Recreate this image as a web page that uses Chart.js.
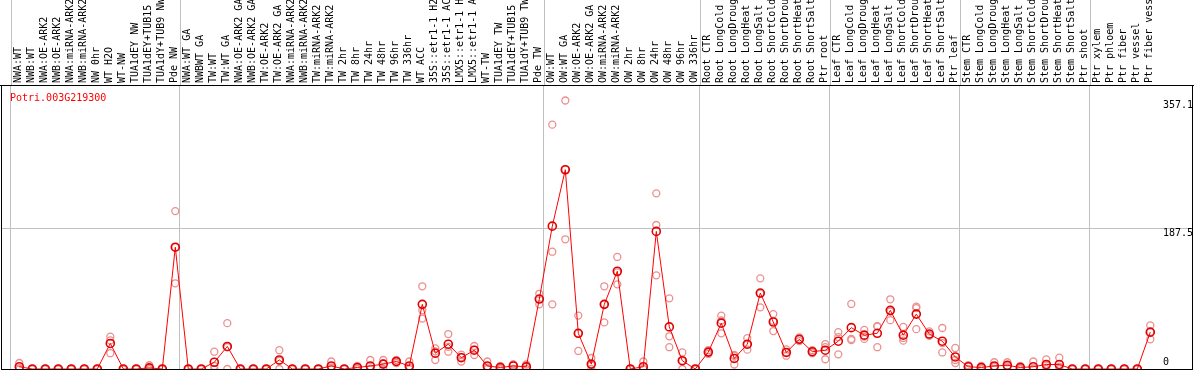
<!DOCTYPE html>
<html>
<head>
<meta charset="utf-8">
<script src="https://cdn.jsdelivr.net/npm/chart.js@4/dist/chart.umd.min.js"></script>
<style>
  html, body { margin: 0; padding: 0; background: #fff; }
  #wrap { width: 1194px; height: 370px; }
</style>
</head>
<body>
<div id="wrap"><canvas id="efp-chart"></canvas></div>
<script>
// ------------------------
// DATA
// ------------------------

const geneName = 'Potri.003G219300'

const categories = [
  'NWA:WT', 'NWB:WT', 'NWA:OE-ARK2', 'NWB:OE-ARK2', 'NWA:miRNA-ARK2', 'NWB:miRNA-ARK2',
  'NW 0hr', 'WT H2O', 'WT-NW', 'TUA1dEY NW', 'TUA1dEY+TUB15 NW', 'TUA1dY+TUB9 NW', 'Pde NW',
  'NWA:WT GA', 'NWBWT GA', 'TW:WT', 'TW:WT GA', 'NWA:OE-ARK2 GA', 'NWB:OE-ARK2 GA',
  'TW:OE-ARK2', 'TW:OE-ARK2 GA', 'NWA:miRNA-ARK2 GA', 'NWB:miRNA-ARK2 GA', 'TW:miRNA-ARK2',
  'TW:miRNA-ARK2 GA', 'TW 2hr', 'TW 8hr', 'TW 24hr', 'TW 48hr', 'TW 96hr', 'TW 336hr',
  'WT ACC', '35S::etr1-1 H2O', '35S::etr1-1 ACC', 'LMX5::etr1-1 H2O', 'LMX5::etr1-1 ACC',
  'WT-TW', 'TUA1dEY TW', 'TUA1dEY+TUB15 TW', 'TUA1dY+TUB9 TW', 'Pde TW',
  'OW:WT', 'OW:WT GA', 'OW:OE-ARK2', 'OW:OE-ARK2 GA', 'OW:miRNA-ARK2', 'OW:miRNA-ARK2 GA',
  'OW 2hr', 'OW 8hr', 'OW 24hr', 'OW 48hr', 'OW 96hr', 'OW 336hr',
  'Root CTR', 'Root LongCold', 'Root LongDrought', 'Root LongHeat', 'Root LongSalt',
  'Root ShortCold', 'Root ShortDrought', 'Root ShortHeat', 'Root ShortSalt', 'Ptr root',
  'Leaf CTR', 'Leaf LongCold', 'Leaf LongDrought', 'Leaf LongHeat', 'Leaf LongSalt',
  'Leaf ShortCold', 'Leaf ShortDrought', 'Leaf ShortHeat', 'Leaf ShortSalt', 'Ptr leaf',
  'Stem CTR', 'Stem LongCold', 'Stem LongDrought', 'Stem LongHeat', 'Stem LongSalt',
  'Stem ShortCold', 'Stem ShortDrought', 'Stem ShortHeat', 'Stem ShortSalt', 'Ptr shoot',
  'Ptr xylem', 'Ptr phloem', 'Ptr fiber', 'Ptr vessel', 'Ptr fiber vessel'
]

// group sizes (separators are drawn between the groups)
const groupSizes = [13, 28, 12, 10, 10, 10, 11, 1, 1, 1, 1]

// mean expression per sample
const meanValues = [
  3, 0, 0, 0, 0, 0, 0, 34, 0, 0, 1.5, 0, 162,
  0, 0, 9, 30, 0, 0, 0, 12, 0, 0, 0, 4, 0, 2, 4, 6.5, 10, 4, 86, 21, 33, 15, 25, 4, 2, 4, 3, 93,
  190, 265, 47.5, 6.5, 86, 130, 0, 3, 183, 56, 11, 0,
  22.5, 61, 14, 33, 101, 62.5, 22, 39.5, 23, 25,
  37, 55, 45, 47.5, 78, 45, 73, 46.5, 37, 16,
  3, 2, 4, 5, 2, 3, 6, 6, 0, 0, 0,
  0, 0, 0, 49
]

// replicate values
const rep1 = [
  8, 0, 0, 0, 0, 0, 0, 43, 0, 0, 5, 0, 210,
  0, 0, 23, 61, 0, 0, 0, 25, 0, 0, 0, 10, 0, 4, 12, 12, 12, 10, 110, 27.5, 46.5, 19, 30.6, 10, 4, 6, 6, 100,
  325, 357.1, 71, 14.6, 110, 149, 0, 10, 233.6, 94, 22, 0,
  25, 71, 18.6, 41, 120.6, 73, 26, 42, 25, 33,
  49, 86.5, 52, 57, 92.7, 56, 83, 50, 54.5, 28,
  5, 4, 9, 9, 4, 10, 12.8, 15, 0, 0, 0,
  0, 0, 0, 58
]
const rep2 = [
  0, 0, 0, 0, 0, 0, 0, 21, 0, 0, 0, 0, 114,
  0, 0, 0, 0, 0, 0, 0, 0, 0, 0, 0, 0, 0, 0, 0, 0, 8, 0, 67, 12, 23, 10, 18.6, 0, 0, 0, 0, 86,
  86, 172.5, 24, 0, 62, 112.6, 0, 0, 124.6, 29, 0, 0,
  20, 47.5, 6, 25.7, 82, 50.5, 17.7, 37, 21, 13,
  19.5, 40, 40, 29, 65, 37.7, 53, 44, 22, 8,
  0, 0, 0, 2, 0, 0, 0, 0, 0, 0, 0,
  0, 0, 0, 39.5
]
const rep3 = [
  1, 0, 0, 0, 0, 0, 0, 38, 0, 0, 0, 0, 162,
  0, 0, 4, 29, 0, 0, 0, 11, 0, 0, 0, 2, 0, 2, 0, 7.5, 10, 2, 78, 23.5, 29.5, 16, 25.8, 2, 2, 6, 3, 93,
  156, 265.4, 47.5, 5, 86, 128.4, 0, 0, 191.5, 43.5, 11, 0,
  22.5, 64.5, 17.4, 32.3, 100.4, 64, 22.3, 39.5, 23, 29,
  42.5, 38.5, 43, 56.5, 76.3, 41.3, 81, 45.5, 34.5, 12,
  4, 2, 3, 4, 2, 0, 5, 3, 0, 0, 0,
  0, 0, 0, 49.5
]

// y axis tick labels
const yTicks = [0, 187.5, 357.1]

// ------------------------
// CHART SETUP
// ------------------------

const efpCanvas = document.querySelector('#efp-chart')
const monoFont = 'DejaVu Sans Mono'

const toPoints = (arr) => arr.map((v, i) => ({ x: i, y: v }))

// boundaries between sample groups, in index units
let boundaries = [-0.64]
let running = 0
groupSizes.forEach(n => {
  running += n
  boundaries.push(running - 0.64)
})

const repStyle = {
  showLine: false,
  pointRadius: 3.5,
  pointBorderWidth: 1.3,
  pointBackgroundColor: 'rgba(0,0,0,0)',
  pointBorderColor: '#ec8f8f'
}

const efpData = {
  datasets: [
    {
      data: toPoints(meanValues),
      borderColor: '#ff0000',
      borderWidth: 1,
      tension: 0,
      pointRadius: 4,
      pointBorderWidth: 1.6,
      pointBackgroundColor: 'rgba(0,0,0,0)',
      pointBorderColor: '#e00000'
    },
    { data: toPoints(rep1), ...repStyle },
    { data: toPoints(rep2), ...repStyle },
    { data: toPoints(rep3), ...repStyle }
  ]
}

// frame, header separators, title and y labels
const efpDecor = {
  id: 'efpDecor',
  afterDraw(chart) {
    const ctx = chart.ctx
    const area = chart.chartArea
    const xs = chart.scales.x
    const ys = chart.scales.y
    ctx.save()

    ctx.fillStyle = '#c0c0c0'
    boundaries.forEach(b => {
      const px = Math.round(xs.getPixelForValue(b))
      ctx.fillRect(px, 0, 1, area.top)
    })

    ctx.fillStyle = '#000'
    ctx.fillRect(0, area.top, chart.width, 1)
    ctx.fillRect(area.left, area.top, 1, area.bottom - area.top)
    ctx.fillRect(area.right - 1, area.top, 1, area.bottom - area.top)
    ctx.fillRect(area.left, area.bottom, area.right - area.left, 1)

    ctx.font = '10px ' + monoFont
    ctx.fillStyle = '#ff0000'
    ctx.textAlign = 'left'
    ctx.textBaseline = 'alphabetic'
    ctx.fillText(geneName, 10, 101)

    ctx.fillStyle = '#000'
    ys.ticks.forEach((t, i) => {
      const py = ys.getPixelForValue(t.value)
      if (i === 0) {
        ctx.textBaseline = 'alphabetic'
        ctx.fillText(String(t.value), 1163, py - 4)
      } else {
        ctx.textBaseline = 'top'
        ctx.fillText(String(t.value), 1163, py)
      }
    })
    ctx.restore()
  }
}

const efpOptions = {
  responsive: false,
  animation: false,
  layout: { autoPadding: false, padding: { left: 1, right: 1, top: 0, bottom: 0 } },
  plugins: {
    legend: { display: false },
    tooltip: { enabled: false }
  },
  scales: {
    x: {
      type: 'linear',
      position: 'bottom',
      min: -1.4077,
      max: 90.285,
      bounds: 'data',
      afterBuildTicks: (scale) => { scale.ticks = boundaries.map(v => ({ value: v })) },
      afterFit: (scale) => {
        scale.height = 1
        scale.paddingLeft = 0
        scale.paddingRight = 0
      },
      ticks: { display: false },
      border: { display: false },
      grid: { color: '#c0c0c0', lineWidth: 1, drawTicks: false }
    },
    xl: {
      type: 'linear',
      position: 'top',
      min: -1.4077,
      max: 90.285,
      bounds: 'data',
      afterBuildTicks: (scale) => { scale.ticks = categories.map((c, i) => ({ value: i })) },
      afterFit: (scale) => {
        scale.height = 85
        scale.paddingLeft = 0
        scale.paddingRight = 0
      },
      ticks: {
        autoSkip: false,
        minRotation: 90,
        maxRotation: 90,
        padding: 2,
        labelOffset: 10.7,
        color: '#000',
        font: { family: monoFont, size: 10 },
        callback: (value) => categories[value]
      },
      border: { display: false },
      grid: { display: false, drawTicks: false }
    },
    y: {
      type: 'linear',
      position: 'right',
      min: 0,
      max: 377.7,
      bounds: 'data',
      afterBuildTicks: (scale) => { scale.ticks = yTicks.map(v => ({ value: v })) },
      afterFit: (scale) => {
        scale.width = 0
        scale.paddingTop = 0
        scale.paddingBottom = 0
      },
      ticks: { display: false },
      border: { display: false },
      grid: {
        drawTicks: false,
        lineWidth: 1,
        color: (c) => (c.tick && c.tick.value === 187.5 ? '#c0c0c0' : 'rgba(0,0,0,0)')
      }
    }
  }
}

efpCanvas.width = 1194
efpCanvas.height = 370

let efpChart = new Chart(efpCanvas, {
  type: 'line',
  data: efpData,
  options: efpOptions,
  plugins: [efpDecor]
})
</script>
</body>
</html>
